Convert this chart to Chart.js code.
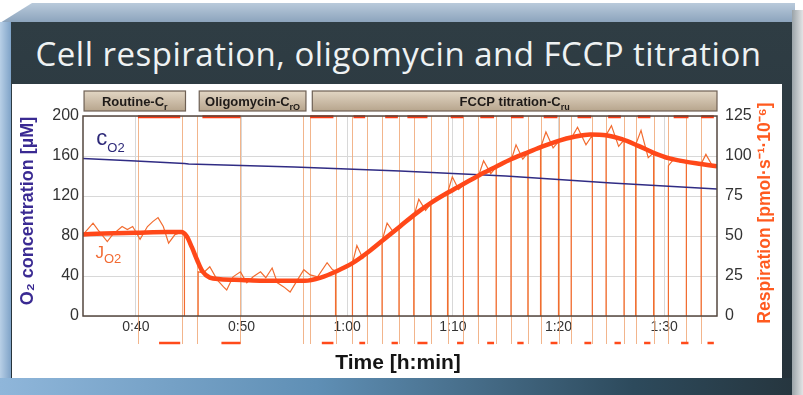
<!DOCTYPE html>
<html>
<head>
<meta charset="utf-8">
<script src="https://cdn.jsdelivr.net/npm/chart.js@4.4.1/dist/chart.umd.min.js"></script>
<style>
  body { margin: 0; background: #fff; }
  #frame { position: relative; width: 803px; height: 395px; overflow: hidden; background: #fff; }
  #bevel { position: absolute; left: 0; top: 3px; width: 795px; height: 20px;
    background: linear-gradient(#b9cadb, #8aa2bb);
    clip-path: polygon(32px 0, 100% 0, 100% 100%, 0 100%); }
  #panel { position: absolute; left: 0; top: 22px; width: 792px; height: 373px;
    background: linear-gradient(#2f3d44, #25323a); }
  #leftstrip { position: absolute; left: 0; top: 22px; width: 11px; height: 373px;
    background: linear-gradient(90deg, #b8cfe6, #7fa3c8); }
  #rightside { position: absolute; left: 792px; top: 10px; width: 11px; height: 385px;
    background: linear-gradient(90deg, #9aa3a8, #e2e4e5); }
  #title { position: absolute; left: 0; top: 31px; width: 797px; margin: 0; text-align: center;
    font: 400 33px "Open Sans", sans-serif; letter-spacing: 0.5px; color: #eef2f3; white-space: nowrap; }
  #inner { position: absolute; left: 12px; top: 84px; width: 770px; height: 294px; background: #fff; }
  #bottom { position: absolute; left: 0; top: 378px; width: 792px; height: 17px;
    background: linear-gradient(90deg, #8fb6da, #5f8fb5 40%, #2d4a5c 80%, #26363f); }
</style>
</head>
<body>
<div id="frame">
  <div id="bevel"></div>
  <div id="panel"></div>
  <div id="leftstrip"></div>
  <div id="rightside"></div>
  <div id="bottom"></div>
  <h1 id="title">Cell respiration, oligomycin and FCCP titration</h1>
  <div id="inner"><canvas id="myChart" width="770" height="294"></canvas></div>
</div>
<script>
// time axis in minutes
const tickTimes = [40, 50, 60, 70, 80, 90];
const tickLabels = ['0:40', '0:50', '1:00', '1:10', '1:20', '1:30'];

// phases shown in the boxes above the plot
const phaseStart = [35.1, 46.0, 56.7];
const phaseEnd = [44.7, 56.1, 95];
const phaseName = ['Routine-C', 'Oligomycin-C', 'FCCP titration-C'];
const phaseSub = ['r', 'rO', 'ru'];

// oxygen concentration [µM]
const cO2Time = [35, 40, 44.6, 45, 50, 55, 60, 65, 70, 75, 80, 85, 90, 95];
const cO2Val = [157.5, 155, 152.5, 152, 150.5, 149, 147, 145, 142.5, 140, 136.5, 133, 130, 127];

// smoothed respiration [pmol/(s*10^6 cells)]
const fluxTime = [35, 37, 40, 43, 44.3, 44.8, 45.3, 45.8, 46.3, 47, 48, 50, 52, 54, 56, 57.5, 59, 60.5, 62, 63.5, 65, 66.5, 68, 69.5, 71, 72.5, 74, 75.5, 77, 78.5, 80, 81.5, 83, 84.5, 86, 87.5, 89, 90.5, 92, 93.5, 95];
const fluxVal = [51, 51.5, 52, 52.5, 52.5, 50, 43, 35, 28, 24, 23, 22.5, 22, 22, 22, 24, 28, 33, 40, 48, 56, 64, 71, 77, 82.5, 88, 93, 98, 102, 106, 109.5, 112, 113.5, 113, 110.5, 106.5, 102, 98.5, 96.5, 95, 93.5];

// raw respiration, routine and oligomycin part (-10 = off scale)
const rawTime = [35, 35.95, 36.4, 37.3, 37.8, 38.7, 39.2, 39.7, 40.4, 41.1, 41.6, 42.1, 42.6, 43.1, 43.7, 44.2, 44.6, 44.6,
  45.9, 45.9, 46.4, 47.0, 47.7, 48.3, 48.6, 49.2, 49.9, 50.5, 51.1, 51.8, 52.3, 52.9, 53.4, 54.0, 54.6, 55.3, 55.9, 56.5, 57.2, 58.1, 58.6, 58.9, 58.9];
const rawVal = [50.9, 58, 54, 46.5, 50.9, 55.9, 54, 55.9, 48, 55.9, 59, 61.5, 55.9, 45.5, 50.9, 52, 52, -10,
  -10, 27.6, 27, 30.8, 22.6, 18.2, 16.3, 24.5, 27.6, 20.7, 24.5, 27.6, 23.9, 30, 20.7, 18.2, 15, 22.6, 28.9, 25.7, 24.5, 33.3, 29, 28, -10];

// FCCP titration steps: trace returns at stepOn, leaves the scale at stepOff
const stepOn = [60.5, 63.3, 66.3, 69.5, 72.4, 75.5, 78.3, 81.2, 84.5, 87.3, 90.4, 93.5];
const stepOff = [61.9, 64.9, 67.9, 71.0, 74.1, 77.1, 80.0, 83.2, 86.2, 89.0, 92.1, 95];
// raw flux in each step: start, bump, dip, end
const stepVals = [
  [33, 44, 36, 40], [47, 58, 52, 55], [62, 73, 66, 70], [77, 87, 79, 82],
  [87, 97, 89, 93], [97, 107, 98, 102], [105, 115, 105, 109], [111, 118, 107, 113],
  [113, 119, 106, 110], [107, 116, 99, 102], [94, 98, 96, 97], [95, 101, 94, 93]
];

// marks set on the flux trace
const markStart = [40.2, 46.3, 56.5, 60.6, 63.6, 65.7, 69.8, 72.6, 75.5, 78.6, 81.8, 84.7, 87.5, 90.9, 93.5];
const markEnd = [44.2, 49.9, 58.7, 61.7, 64.8, 67.6, 71.0, 73.9, 76.7, 79.9, 83.1, 85.9, 88.7, 92.3, 94.7];

// events (injections)
const eventTimes = [40.2, 44.4, 45.8, 49.9, 55.8, 56.5, 58.9, 60.5, 61.9, 63.3, 64.9, 66.3, 67.9, 69.5, 71.0, 72.4,
  74.1, 75.5, 77.1, 78.3, 80.0, 81.2, 83.2, 84.5, 86.2, 87.3, 89.0, 90.4, 92.1, 93.5];

const FONT = '"Liberation Sans", Arial, sans-serif';

// build the point lists
const cO2 = cO2Time.map((t, i) => ({ x: t, y: cO2Val[i] }));
const flux = fluxTime.map((t, i) => ({ x: t, y: fluxVal[i] }));
const raw = rawTime.map((t, i) => ({ x: t, y: rawVal[i] }));
stepOn.forEach((on, i) => {
  const off = stepOff[i], v = stepVals[i], d = off - on;
  raw.push({ x: on, y: -10 }, { x: on, y: v[0] }, { x: on + d * 0.3, y: v[1] },
    { x: on + d * 0.7, y: v[2] }, { x: off, y: v[3] });
  if (off < 95) raw.push({ x: off, y: -10 });
});
const marks = [];
markStart.forEach((s, i) => {
  marks.push({ x: s, y: 124.6 }, { x: markEnd[i], y: 124.6 }, { x: markEnd[i] + 0.01, y: null });
});

function subText(ctx, main, sub, cx, y, size, subSize, weight) {
  ctx.font = weight + ' ' + size + 'px ' + FONT;
  const w1 = ctx.measureText(main).width;
  ctx.font = weight + ' ' + subSize + 'px ' + FONT;
  const w2 = ctx.measureText(sub).width;
  const x = cx - (w1 + w2) / 2;
  ctx.textAlign = 'left';
  ctx.font = weight + ' ' + size + 'px ' + FONT;
  ctx.fillText(main, x, y);
  ctx.font = weight + ' ' + subSize + 'px ' + FONT;
  ctx.fillText(sub, x + w1, y + size * 0.3);
}

const extras = {
  id: 'extras',
  beforeDatasetsDraw(chart) {
    const { ctx, chartArea: a, scales: { x } } = chart;
    ctx.save();
    ctx.strokeStyle = 'rgba(240,168,120,0.85)';
    ctx.lineWidth = 1;
    eventTimes.forEach(t => {
      const px = Math.round(x.getPixelForValue(t)) + 0.5;
      ctx.beginPath();
      ctx.moveTo(px, a.top);
      ctx.lineTo(px, a.bottom + 28);
      ctx.stroke();
    });
    ctx.restore();
  },
  afterDatasetsDraw(chart) {
    const { ctx, chartArea: a, scales: { x, y } } = chart;
    ctx.save();
    // plot frame
    ctx.strokeStyle = '#54473f';
    ctx.lineWidth = 1.5;
    ctx.strokeRect(a.left, a.top, a.right - a.left, a.bottom - a.top);
    // mark dashes under the axis
    ctx.strokeStyle = '#ff4a1a';
    ctx.lineWidth = 2.5;
    markStart.forEach((s, i) => {
      ctx.beginPath();
      ctx.moveTo(x.getPixelForValue((s + markEnd[i]) / 2), a.bottom + 27);
      ctx.lineTo(x.getPixelForValue(markEnd[i]), a.bottom + 27);
      ctx.stroke();
    });
    // phase boxes
    phaseStart.forEach((s, i) => {
      const x0 = x.getPixelForValue(s), x1 = x.getPixelForValue(phaseEnd[i]);
      const g = ctx.createLinearGradient(0, 7, 0, 27);
      g.addColorStop(0, '#e2d6c4');
      g.addColorStop(1, '#b7a58d');
      ctx.fillStyle = g;
      ctx.fillRect(x0, 7, x1 - x0, 20);
      ctx.strokeStyle = '#6e6054';
      ctx.lineWidth = 1.2;
      ctx.strokeRect(x0, 7, x1 - x0, 20);
      ctx.fillStyle = '#1e1a18';
      ctx.textBaseline = 'alphabetic';
      subText(ctx, phaseName[i], phaseSub[i], (x0 + x1) / 2, 22, 13, 9, 'bold');
    });
    // trace labels
    ctx.fillStyle = '#2c2878';
    subText(ctx, 'c', 'O2', x.getPixelForValue(37.6), y.getPixelForValue(171), 22, 13, 'normal');
    ctx.fillStyle = '#f26a32';
    subText(ctx, 'J', 'O2', x.getPixelForValue(37.4), y.getPixelForValue(58), 17, 13, 'normal');
    // axis titles
    ctx.textAlign = 'center';
    ctx.textBaseline = 'middle';
    const cy = (a.top + a.bottom) / 2;
    ctx.save();
    ctx.translate(16, cy - 5);
    ctx.rotate(-Math.PI / 2);
    ctx.fillStyle = '#3a2a92';
    ctx.font = 'bold 18px ' + FONT;
    ctx.fillText('O₂ concentration [µM]', 0, 0);
    ctx.restore();
    ctx.save();
    ctx.translate(753, cy - 3);
    ctx.rotate(-Math.PI / 2);
    ctx.fillStyle = '#ff5a1f';
    ctx.font = 'bold 17.5px ' + FONT;
    ctx.fillText('Respiration [pmol·s⁻¹·10⁻⁶]', 0, 0);
    ctx.restore();
    ctx.fillStyle = '#151515';
    ctx.font = 'bold 21px ' + FONT;
    ctx.fillText('Time [h:min]', (a.left + a.right) / 2 - 2, 279);
    ctx.restore();
  }
};

const config = {
  type: 'line',
  data: {
    datasets: [
      { label: 'marks', data: marks, yAxisID: 'y1', borderColor: '#ff3a12', borderWidth: 3, order: 0, clip: 4, spanGaps: false },
      { label: 'JO2 smoothed', data: flux, yAxisID: 'y1', borderColor: 'rgb(255,72,25)', borderWidth: 4.5, cubicInterpolationMode: 'monotone', order: 1 },
      { label: 'cO2', data: cO2, yAxisID: 'y', borderColor: '#302c84', borderWidth: 1.5, order: 2 },
      { label: 'JO2', data: raw, yAxisID: 'y1', borderColor: 'rgb(242,108,48)', borderWidth: 1.2, order: 3 }
    ]
  },
  options: {
    responsive: false,
    animation: false,
    devicePixelRatio: 1,
    layout: { padding: { top: 32, left: 0, right: 0, bottom: 0 } },
    plugins: { legend: { display: false }, tooltip: { enabled: false } },
    elements: { point: { radius: 0 }, line: { tension: 0 } },
    scales: {
      x: {
        type: 'linear', min: 35, max: 95,
        afterBuildTicks: s => { s.ticks = tickTimes.map(v => ({ value: v })); },
        afterFit: s => { s.height = 62; },
        ticks: { callback: (v, i) => tickLabels[i], font: { family: FONT, size: 14 }, color: '#333', padding: 3, maxRotation: 0 },
        grid: { color: '#d8d8d8', drawTicks: false },
        border: { display: false }
      },
      y: {
        position: 'left', min: 0, max: 200,
        afterFit: s => { s.width = 71; },
        ticks: { stepSize: 40, font: { family: FONT, size: 16 }, color: '#333', padding: 4 },
        grid: { color: '#d8d8d8', drawTicks: false },
        border: { display: false }
      },
      y1: {
        position: 'right', min: 0, max: 125,
        afterFit: s => { s.width = 65; },
        ticks: { stepSize: 25, font: { family: FONT, size: 16 }, color: '#333', padding: 8 },
        grid: { display: false, drawTicks: false },
        border: { display: false }
      }
    }
  },
  plugins: [extras]
};

const myChart = new Chart(document.getElementById('myChart'), config);
</script>
</body>
</html>
